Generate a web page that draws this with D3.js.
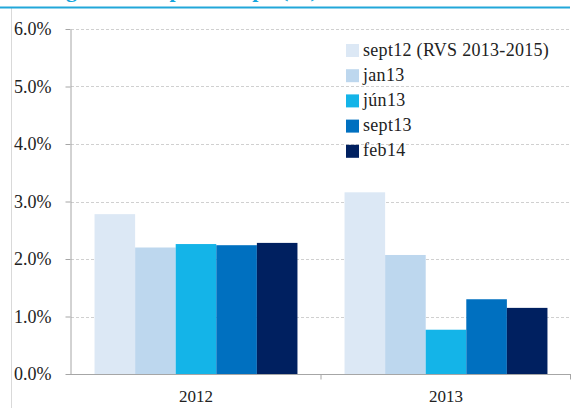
<!DOCTYPE html>
<html><head><meta charset="utf-8">
<script src="https://cdn.jsdelivr.net/npm/d3@7"></script>
<style>
html,body{margin:0;padding:0;background:#fff;overflow:hidden;}
svg{display:block;}
svg text{font-family:"Liberation Serif","DejaVu Serif",serif;}
</style></head>
<body>
<svg id="chart" width="572" height="408"></svg>
<script>
const categories = ["2012", "2013"];
const seriesNames = ["sept12 (RVS 2013-2015)", "jan13", "jún13", "sept13", "feb14"];
const seriesColors = ["#dce8f5", "#bdd7ee", "#14b4e8", "#0070c0", "#002060"];
const values2012 = [2.78, 2.20, 2.26, 2.24, 2.28];
const values2013 = [3.16, 2.07, 0.77, 1.30, 1.15];
const yTicks = [0, 1, 2, 3, 4, 5, 6];
const titleText = "Hagvöxtur – spár um spá (%)";

const seriesByCat = [values2012, values2013];
const svg = d3.select("#chart");
const W = 572, H = 408;
const serif = "Liberation Serif, DejaVu Serif, serif";

// frame decorations
svg.append("line").attr("x1", 11.5).attr("x2", 11.5).attr("y1", 8).attr("y2", H)
  .attr("stroke", "#d9d9d9").attr("stroke-width", 1);
svg.append("line").attr("x1", 0).attr("x2", 570).attr("y1", 7.5).attr("y2", 7.5)
  .attr("stroke", "#22a7d9").attr("stroke-width", 2);
svg.append("text").attr("x", 38).attr("y", -3.5).attr("fill", "#14a6de")
  .attr("font-family", serif)
  .attr("font-weight", "bold").attr("font-size", 22).text(titleText);

const y = d3.scaleLinear().domain([0, 6]).range([374, 29]);
const x0 = d3.scaleBand().domain(categories).range([71, 571]).paddingInner(0).paddingOuter(0);
const x1 = d3.scaleBand().domain(seriesNames).range([0, x0.bandwidth()]).paddingInner(0).paddingOuter(0.58);

// gridlines
svg.append("g").selectAll("line").data(yTicks.filter(d => d > 0)).join("line")
  .attr("x1", 71).attr("x2", 571)
  .attr("y1", d => Math.round(y(d)) + 0.5).attr("y2", d => Math.round(y(d)) + 0.5)
  .attr("stroke", "#d0d0d0").attr("stroke-dasharray", "3,2").attr("stroke-width", 1);

// bars
const groups = svg.append("g").selectAll("g").data(categories).join("g")
  .attr("transform", d => `translate(${x0(d)},0)`);
groups.selectAll("rect").data((d, i) => seriesByCat[i].map((v, j) => ({name: seriesNames[j], v, c: seriesColors[j]})))
  .join("rect")
  .attr("x", d => x1(d.name)).attr("width", x1.bandwidth())
  .attr("y", d => y(d.v)).attr("height", d => y(0) - y(d.v))
  .attr("fill", d => d.c);

// y axis
const yAxis = d3.axisLeft(y).tickValues(yTicks).tickFormat(d => d3.format(".1f")(d) + "%")
  .tickSizeInner(5).tickSizeOuter(0).tickPadding(14);
const ya = svg.append("g").attr("transform", "translate(70.5,0)").call(yAxis);
ya.attr("font-family", serif);
ya.select(".domain").attr("stroke", "#a6a6a6");
ya.selectAll(".tick line").attr("stroke", "#a6a6a6");
ya.selectAll("text").attr("font-size", 18).attr("fill", "#222").attr("font-family", serif);

// x axis
const xAxis = d3.axisBottom(x0).tickSize(0).tickPadding(15);
const xa = svg.append("g").attr("transform", `translate(0,${y(0) + 0.5})`).call(xAxis);
xa.attr("font-family", serif);
xa.select(".domain").remove();
xa.append("line").attr("x1", 66).attr("x2", 571).attr("y1", 0).attr("y2", 0).attr("stroke", "#a6a6a6");
xa.selectAll(".sep").data([321, 570.5]).join("line").attr("class", "sep")
  .attr("x1", d => d).attr("x2", d => d).attr("y1", 0).attr("y2", 5).attr("stroke", "#a6a6a6");
xa.selectAll(".tick text").attr("font-size", 17).attr("fill", "#222").attr("font-family", serif);

// legend
const lg = svg.append("g").attr("transform", "translate(346,44)");
const li = lg.selectAll("g").data(seriesNames).join("g")
  .attr("transform", (d, i) => `translate(0,${i * 25.2})`);
li.append("rect").attr("width", 13).attr("height", 13).attr("fill", (d, i) => seriesColors[i]);
li.append("text").attr("x", 17).attr("y", 11.5).attr("font-size", 18).attr("letter-spacing", 0.3)
  .attr("font-family", serif).attr("fill", "#222").text(d => d);
</script>
</body></html>
